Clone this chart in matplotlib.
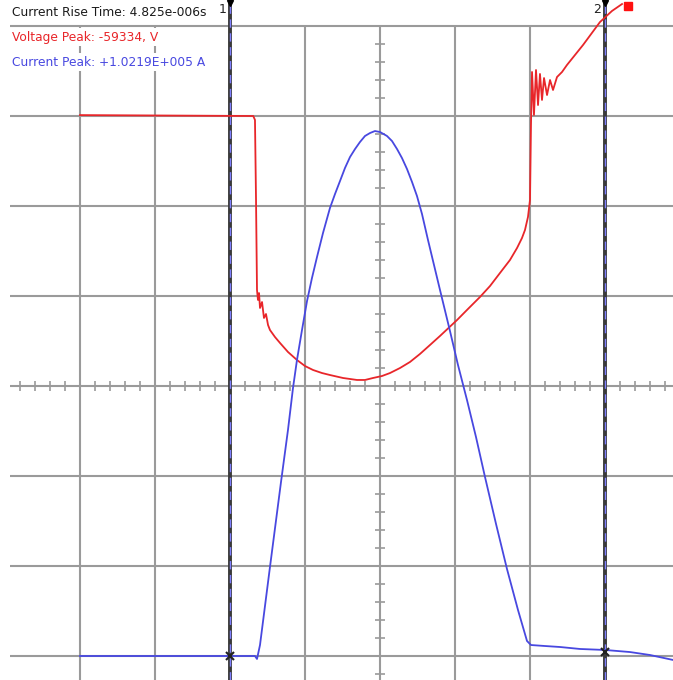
import numpy as np
import matplotlib.pyplot as plt

# scope screen, values in divisions (x: time div, y: vertical div)
volt_t = [-4.0, -1.69, -1.667, -1.653, -1.64, -1.627, -1.613, -1.6, -1.573, -1.547, -1.52,
          -1.493, -1.467, -1.4, -1.333, -1.227, -1.107, -1.0, -0.893, -0.773, -0.667,
          -0.493, -0.307, -0.2, -0.093, 0.027, 0.133, 0.267, 0.4, 0.533, 0.667, 0.8,
          1.027, 1.173, 1.333, 1.467, 1.6, 1.733, 1.827, 1.893, 1.933, 1.973, 2.0,
          2.013, 2.027, 2.053, 2.08, 2.107, 2.133, 2.16, 2.187, 2.227, 2.267, 2.307,
          2.36, 2.427, 2.493, 2.707, 2.933, 3.093, 3.227]
volt_v = [3.01, 3.0, 2.956, 2.067, 1.067, 0.956, 1.033, 0.867, 0.933, 0.756, 0.8,
          0.678, 0.622, 0.544, 0.478, 0.378, 0.289, 0.222, 0.178, 0.144, 0.122,
          0.089, 0.067, 0.067, 0.089, 0.111, 0.144, 0.2, 0.267, 0.356, 0.456, 0.556,
          0.733, 0.856, 0.989, 1.111, 1.256, 1.4, 1.533, 1.644, 1.733, 1.878, 2.067,
          2.9, 3.489, 3.011, 3.511, 3.122, 3.467, 3.178, 3.422, 3.233, 3.4, 3.289,
          3.433, 3.489, 3.567, 3.789, 4.044, 4.167, 4.244]

curr_t = [-4.0, -1.667, -1.64, -1.6, -1.467, -1.32, -1.227, -1.16, -1.107, -1.04, -0.973,
          -0.907, -0.84, -0.76, -0.667, -0.6, -0.533, -0.467, -0.4, -0.333, -0.267,
          -0.2, -0.133, -0.067, 0.0, 0.093, 0.16, 0.227, 0.293, 0.36, 0.427, 0.493,
          0.56, 0.64, 0.8, 0.933, 1.04, 1.16, 1.28, 1.4, 1.547, 1.693, 1.84, 1.96,
          2.013, 2.2, 2.4, 2.667, 3.0, 3.333, 3.6, 3.907]
curr_v = [-3.0, -3.0, -3.033, -2.878, -2.011, -1.067, -0.489, -0.022, 0.289, 0.622, 0.944,
          1.2, 1.433, 1.7, 1.978, 2.133, 2.278, 2.422, 2.544, 2.633, 2.711,
          2.778, 2.811, 2.833, 2.822, 2.778, 2.722, 2.633, 2.533, 2.411, 2.267, 2.111,
          1.911, 1.622, 1.067, 0.611, 0.233, -0.156, -0.567, -1.011, -1.533, -2.033, -2.489, -2.833,
          -2.878, -2.889, -2.9, -2.922, -2.933, -2.956, -2.989, -3.044]

cursor_t = [-2.0, 3.0]
cursor_names = ['1', '2']
cross_v = [-3.0, -2.95]

readouts = ['Current Rise Time: 4.825e-006s', 'Voltage Peak: -59334, V',
            'Current Peak: +1.0219E+005 A']
readout_colors = ['#1a1a1a', '#e8262a', '#4848e0']

fig = plt.figure(figsize=(6.73, 6.80), dpi=100)
ax = fig.add_axes([0, 0, 1, 1])
x0, x1 = -380 / 75, 293 / 75
y0, y1 = -294 / 90, 386 / 90
ax.set_xlim(x0, x1)
ax.set_ylim(y0, y1)
ax.axis('off')

grid_c = '#9a9a9a'
left = -370 / 75
top = 4.0
ax.hlines(np.arange(-3, 5), left, x1, color=grid_c, lw=1.5, zorder=1)
ax.vlines(np.arange(-4, 4), y0, top, color=grid_c, lw=1.5, zorder=1)

# centre axes with minor ticks
tx = np.arange(-24, 20) * 0.2
tx = tx[tx > left]
ax.vlines(tx, -0.06, 0.06, color=grid_c, lw=1.2, zorder=1)
ty = np.arange(-17, 21) * 0.2
ax.hlines(ty, -0.07, 0.07, color=grid_c, lw=1.2, zorder=1)

# cursors
for t, name in zip(cursor_t, cursor_names):
    ax.axvline(t, color='#3a3a3a', lw=2.8, zorder=2)
    ax.axvline(t, color='#8080ff', lw=1.0, ls=(0, (6, 4)), zorder=3)
    ax.plot(t, y1 - 0.03, marker='v', color='black', ms=5, zorder=6)
    ax.text(t - 0.05, y1 - 0.03, name, ha='right', va='top', fontsize=9,
            color='#222222', zorder=6)

ax.plot(volt_t, volt_v, color='#e8262a', lw=1.3, zorder=4)
ax.plot(curr_t, curr_v, color='#4848e0', lw=1.3, zorder=4)
ax.plot(3.31, 4.22, marker='s', color='#ff1010', ms=6, zorder=5)

for t, v in zip(cursor_t, cross_v):
    ax.plot(t, v, marker='x', color='#222222', ms=6, mew=1.5, zorder=5)

for i, (s, c) in enumerate(zip(readouts, readout_colors)):
    ax.text(12 / 75 + x0, y1 - (12 + 25 * i) / 90, s, color=c, fontsize=8.8,
            family='DejaVu Sans', ha='left', va='center', zorder=6,
            bbox=dict(facecolor='white', edgecolor='none', pad=1.5))

fig.savefig('out.png', dpi=100)
